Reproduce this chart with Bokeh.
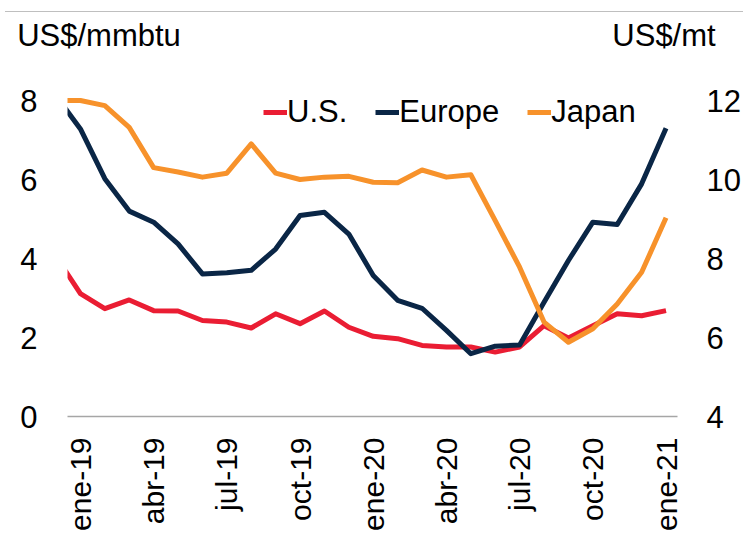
import math
from bokeh.plotting import figure
from bokeh.layouts import column
from bokeh.models import (Range1d, LinearAxis, FixedTicker, Legend, LegendItem,
                          ColumnDataSource, Div)
from bokeh.embed import file_html
from bokeh.resources import INLINE

# ---- data (monthly, dic-18 .. ene-21) ----
month_labels = ["dic-18",
                "ene-19", "feb-19", "mar-19", "abr-19", "may-19", "jun-19",
                "jul-19", "ago-19", "sep-19", "oct-19", "nov-19", "dic-19",
                "ene-20", "feb-20", "mar-20", "abr-20", "may-20", "jun-20",
                "jul-20", "ago-20", "sep-20", "oct-20", "nov-20", "dic-20",
                "ene-21"]
month_index = list(range(-1, 25))

us = [4.05, 3.11, 2.73, 2.95, 2.68, 2.67, 2.43, 2.39, 2.24, 2.60, 2.35, 2.67, 2.26,
      2.03, 1.97, 1.80, 1.76, 1.76, 1.63, 1.76, 2.30, 1.99, 2.30, 2.60, 2.55, 2.68]
europe = [8.12, 7.28, 6.02, 5.20, 4.92, 4.37, 3.61, 3.64, 3.70, 4.24, 5.09, 5.17, 4.62,
          3.57, 2.94, 2.74, 2.18, 1.59, 1.78, 1.81, 2.89, 3.95, 4.92, 4.86, 5.89, 7.30]
japan = [12.00, 12.00, 11.87, 11.32, 10.30, 10.19, 10.06, 10.16, 10.90, 10.16, 10.00, 10.06, 10.08,
         9.93, 9.92, 10.24, 10.06, 10.12, 8.96, 7.78, 6.39, 5.88, 6.22, 6.85, 7.65, 9.03]

left_ticks = [0, 2, 4, 6, 8]
right_ticks = [4, 6, 8, 10, 12]
x_tick_pos = [0, 3, 6, 9, 12, 15, 18, 21, 24]

left_title = "US$/mmbtu"
right_title = "US$/mt"

FONT = "Liberation Sans"
FS = "31px"
RED = "#EA1D33"
NAVY = "#0A2646"
ORANGE = "#F7922B"
LW = 5

src = ColumnDataSource(dict(x=month_index, us=us, europe=europe, japan=japan))

p = figure(width=743, height=521, output_backend="svg", toolbar_location=None,
           x_range=Range1d(-0.53, 24.47), y_range=Range1d(0, 8.633),
           min_border_left=67, min_border_right=66, min_border_top=63,
           min_border_bottom=117)
p.extra_y_ranges = {"right": Range1d(4, 12.633)}
# helper range (pixel-like) used only to place the two unit titles above the frame
p.extra_x_ranges = {"titles": Range1d(67, 677)}
p.outline_line_color = None
p.grid.visible = False
p.background_fill_color = "white"
p.border_fill_color = "white"

r_us = p.line("x", "us", source=src, line_color=RED, line_width=LW, line_join="round")
r_eu = p.line("x", "europe", source=src, line_color=NAVY, line_width=LW, line_join="round")
r_jp = p.line("x", "japan", source=src, line_color=ORANGE, line_width=LW,
              line_join="round", y_range_name="right")

def style_axis(ax, fs=FS):
    ax.major_tick_line_color = None
    ax.minor_tick_line_color = None
    ax.major_tick_out = 0
    ax.major_tick_in = 0
    ax.minor_tick_out = 0
    ax.minor_tick_in = 0
    ax.major_label_text_font = FONT
    ax.major_label_text_font_size = fs
    ax.major_label_text_color = "#000000"

# x axis
xa = p.xaxis[0]
style_axis(xa, "30px")
xa.ticker = FixedTicker(ticks=x_tick_pos)
xa.major_label_overrides = {k: month_labels[k + 1] for k in x_tick_pos}
xa.major_label_orientation = math.pi / 2
xa.axis_line_color = "#A6A6A6"
xa.axis_line_width = 1.5
xa.major_label_standoff = 21

# left axis
ya = p.yaxis[0]
style_axis(ya)
ya.ticker = FixedTicker(ticks=left_ticks)
ya.axis_line_color = None
ya.major_label_standoff = 30

# right axis
ra = LinearAxis(y_range_name="right", ticker=FixedTicker(ticks=right_ticks))
style_axis(ra)
ra.axis_line_color = None
ra.major_label_standoff = 29
p.add_layout(ra, "right")

# unit titles drawn as labels of an invisible axis above the frame
ta = LinearAxis(x_range_name="titles", ticker=FixedTicker(ticks=[98.5, 663.5]))
style_axis(ta)
ta.axis_line_color = None
ta.major_label_overrides = {98.5: left_title, 663.5: right_title}
ta.major_label_standoff = 23
p.add_layout(ta, "above")

# legend
legend = Legend(items=[LegendItem(label="U.S.", renderers=[r_us]),
                       LegendItem(label="Europe", renderers=[r_eu]),
                       LegendItem(label="Japan", renderers=[r_jp])],
                location=(196, 286), orientation="horizontal",
                glyph_width=24, glyph_height=20, label_standoff=0, spacing=28,
                padding=0, margin=0, border_line_color=None,
                background_fill_alpha=0,
                label_text_font=FONT, label_text_font_size=FS,
                label_text_color="#000000")
p.add_layout(legend)

# thin grey rule across the top of the page
rule = Div(text="", width=738, height=12, margin=(0, 0, 0, 5),
           styles={"border-bottom": "1.5px solid #BFBFBF", "box-sizing": "border-box"})

layout = column(rule, p, spacing=0)

open("out.html", "w").write(file_html(layout, INLINE))
